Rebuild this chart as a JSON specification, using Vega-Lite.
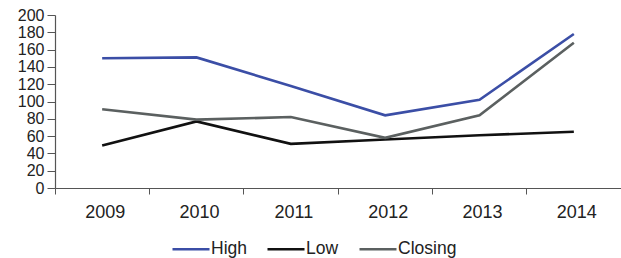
{
  "$schema": "https://vega.github.io/schema/vega-lite/v6.json",
  "width": 566,
  "height": 173,
  "autosize": {"type": "none"},
  "padding": {"left": 55, "top": 15, "right": 0, "bottom": 70},
  "background": "white",
  "config": {
    "view": {"stroke": null},
    "font": "Liberation Sans",
    "axis": {"grid": false, "domainColor": "#555", "tickColor": "#555", "labelColor": "#222", "labelFont": "Liberation Sans"},
    "legend": {"labelFont": "Liberation Sans"}
  },
  "data": {
    "values": [
      {"year": "2009", "series": "High", "value": 150},
      {"year": "2010", "series": "High", "value": 151},
      {"year": "2011", "series": "High", "value": 118},
      {"year": "2012", "series": "High", "value": 84},
      {"year": "2013", "series": "High", "value": 102},
      {"year": "2014", "series": "High", "value": 178},
      {"year": "2009", "series": "Low", "value": 49},
      {"year": "2010", "series": "Low", "value": 77},
      {"year": "2011", "series": "Low", "value": 51},
      {"year": "2012", "series": "Low", "value": 56},
      {"year": "2013", "series": "Low", "value": 61},
      {"year": "2014", "series": "Low", "value": 65},
      {"year": "2009", "series": "Closing", "value": 91},
      {"year": "2010", "series": "Closing", "value": 79},
      {"year": "2011", "series": "Closing", "value": 82},
      {"year": "2012", "series": "Closing", "value": 58},
      {"year": "2013", "series": "Closing", "value": 84},
      {"year": "2014", "series": "Closing", "value": 168}
    ]
  },
  "mark": {"type": "line", "strokeWidth": 2.6},
  "encoding": {
    "x": {
      "field": "year", "type": "ordinal", "title": null,
      "scale": {"type": "band", "paddingInner": 0, "paddingOuter": 0},
      "axis": {"labelAngle": 0, "bandPosition": 0, "tickSize": 6, "labelPadding": 9, "labelFontSize": 18, "labelOffset": 3, "domainWidth": 1.2}
    },
    "y": {
      "field": "value", "type": "quantitative", "title": null,
      "scale": {"domain": [0, 200], "nice": false},
      "axis": {"values": [0,20,40,60,80,100,120,140,160,180,200], "tickSize": 8, "labelPadding": 3, "labelFontSize": 16, "domainWidth": 1.2}
    },
    "color": {
      "field": "series", "type": "nominal", "sort": ["High", "Low", "Closing"],
      "scale": {"domain": ["High", "Low", "Closing"], "range": ["#3b4ea6", "#111111", "#5b6060"]},
      "legend": {
        "title": null, "orient": "none", "direction": "horizontal",
        "legendX": 116, "legendY": 214,
        "symbolType": "stroke", "symbolSize": 1370, "symbolStrokeWidth": 2.6,
        "labelFontSize": 17.5, "labelColor": "#222", "labelOffset": 0, "columnPadding": 15
      }
    }
  }
}
